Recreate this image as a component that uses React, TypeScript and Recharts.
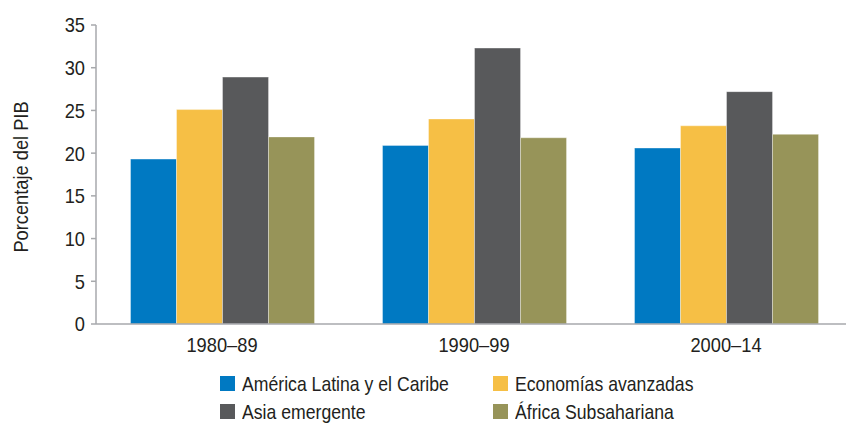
import { BarChart, Bar, XAxis, YAxis } from 'recharts';

const periods = ['1980–89', '1990–99', '2000–14'];
const latinAmerica = [19.3, 20.9, 20.6];
const advanced = [25.1, 24.0, 23.2];
const emergingAsia = [28.9, 32.3, 27.2];
const subSaharan = [21.9, 21.8, 22.2];
const yTicks = [0, 5, 10, 15, 20, 25, 30, 35];

const series = [
  { key: 'latam', name: 'América Latina y el Caribe', color: '#0079C2', values: latinAmerica },
  { key: 'adv', name: 'Economías avanzadas', color: '#F6BF45', values: advanced },
  { key: 'asia', name: 'Asia emergente', color: '#58595B', values: emergingAsia },
  { key: 'ssa', name: 'África Subsahariana', color: '#979459', values: subSaharan },
];

// legend: two columns, filled row by row
const legendOrder = ['latam', 'adv', 'asia', 'ssa'];
const legendCols = [220, 493];
const legendRows = [376, 404];

const font = "'Liberation Sans', Arial, sans-serif";
const textColor = '#231f20';
const axisColor = '#a7a9ac';
// the original uses a condensed face, squeeze the text horizontally
const squeeze = 0.87;

const chartData = periods.map((period, i) => {
  const row: Record<string, string | number> = { period };
  series.forEach(s => {
    row[s.key] = s.values[i];
  });
  return row;
});

function XTick({ x, y, payload }: any) {
  return (
    <g transform={`translate(${x},${y})`}>
      <text
        transform={`scale(${squeeze},1)`}
        textAnchor="middle"
        dy="0.71em"
        fontFamily={font}
        fontSize={21}
        fill={textColor}
      >
        {payload.value}
      </text>
    </g>
  );
}

function YTick({ x, y, payload }: any) {
  return (
    <g transform={`translate(${x},${y})`}>
      <text
        transform={`scale(${squeeze},1)`}
        textAnchor="end"
        dy="0.355em"
        fontFamily={font}
        fontSize={21}
        fill={textColor}
      >
        {payload.value}
      </text>
    </g>
  );
}

function YLabel({ viewBox }: any) {
  const x = (viewBox?.x ?? 0) + 21;
  const y = 177;
  return (
    <g transform={`translate(${x},${y}) rotate(-90) scale(${squeeze},1)`}>
      <text
        textAnchor="middle"
        dominantBaseline="central"
        fontFamily={font}
        fontSize={21}
        fill={textColor}
      >
        Porcentaje del PIB
      </text>
    </g>
  );
}

export default function App() {
  return (
    <div
      style={{
        position: 'absolute',
        left: 0,
        top: 0,
        width: 846,
        height: 424,
        overflow: 'hidden',
        background: '#fff',
      }}
    >
      <BarChart
        width={860}
        height={424}
        data={chartData}
        margin={{ top: 25, right: 8, left: 0, bottom: 70 }}
        barCategoryGap="13.7%"
        barGap={0}
      >
        <XAxis
          dataKey="period"
          height={30}
          tickLine={false}
          axisLine={{ stroke: axisColor, strokeWidth: 1.5 }}
          tickSize={5}
          tickMargin={8}
          tick={<XTick />}
        />
        <YAxis
          width={96}
          domain={[0, 35]}
          ticks={yTicks}
          interval={0}
          tickSize={5}
          tickMargin={6}
          axisLine={{ stroke: axisColor, strokeWidth: 1.5 }}
          tickLine={{ stroke: axisColor, strokeWidth: 1.5 }}
          tick={<YTick />}
          label={<YLabel />}
        />
        {series.map(s => (
          <Bar
            key={s.key}
            dataKey={s.key}
            name={s.name}
            fill={s.color}
            stroke="#ffffff"
            strokeOpacity={0.35}
            strokeWidth={1}
            isAnimationActive={false}
          />
        ))}
      </BarChart>
      {legendOrder.map((k, i) => {
        const s = series.find(x => x.key === k)!;
        return (
          <div
            key={k}
            style={{
              position: 'absolute',
              left: legendCols[i % 2],
              top: legendRows[Math.floor(i / 2)],
              display: 'flex',
              alignItems: 'flex-start',
              height: 15,
              fontFamily: font,
              fontSize: 21,
              lineHeight: '15px',
              color: textColor,
              whiteSpace: 'nowrap',
            }}
          >
            <span
              style={{
                display: 'inline-block',
                width: 15,
                height: 15,
                background: s.color,
                marginRight: 7,
                flex: 'none',
              }}
            />
            <span
              style={{
                display: 'inline-block',
                transform: 'scaleX(0.84)',
                transformOrigin: 'left center',
              }}
            >
              {s.name}
            </span>
          </div>
        );
      })}
    </div>
  );
}
